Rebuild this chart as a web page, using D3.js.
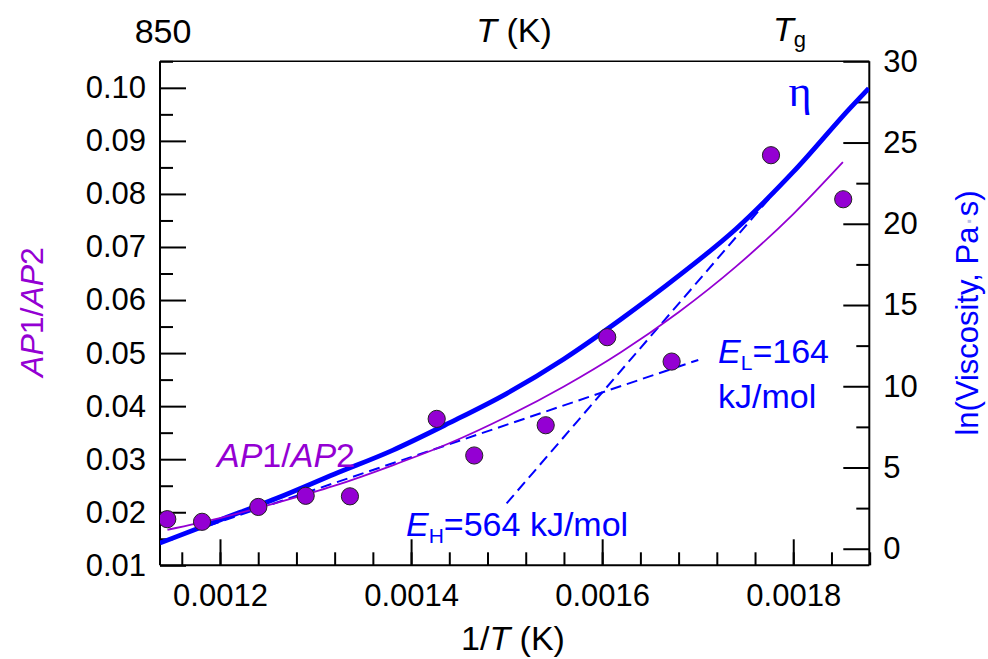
<!DOCTYPE html>
<html lang="en">
<head>
    <meta charset="UTF-8" />
    <title>AP1/AP2 and viscosity vs 1/T</title>
    <script src="https://d3js.org/d3.v7.min.js"></script>
    <style>
        body { margin: 0; background: #fff; }
        text { font-family: Arial, "Liberation Sans", Helvetica, sans-serif; }
    </style>
</head>
<body>
    <script>
        // measured points: 1/T and AP1/AP2 ratio
        const invT = [0.0011448, 0.0011812, 0.0012401, 0.0012897, 0.001336, 0.0014268,
                      0.0014661, 0.0015409, 0.0016053, 0.0016727, 0.0017767, 0.0018523];
        const ratio = [0.0187, 0.0182, 0.0210, 0.0231, 0.0230, 0.0376,
                       0.0307, 0.0364, 0.0530, 0.0484, 0.0873, 0.0790];

        // thin purple fit through the ratio
        const fitX = [0.001145, 0.0012, 0.00126, 0.00132, 0.00138, 0.00144, 0.0015,
                      0.00156, 0.00162, 0.00168, 0.00174, 0.0018, 0.001852];
        const fitRatio = [0.0167, 0.0189, 0.0218, 0.0250, 0.0288, 0.0330, 0.0380,
                          0.0437, 0.0502, 0.0577, 0.0663, 0.0762, 0.0860];

        // thick blue viscosity curve (right axis)
        const viscX = [0.001137, 0.0012, 0.00126, 0.00132, 0.00138, 0.00144, 0.0015,
                       0.00156, 0.00162, 0.00168, 0.00174, 0.0018, 0.00186, 0.001879];
        const lnVisc = [0.35, 1.77, 3.12, 4.60, 6.04, 7.74, 9.55,
                        11.68, 14.14, 16.79, 19.68, 23.19, 27.15, 28.34];

        // Arrhenius tangents (dashed)
        const lowX = [0.001137, 0.0017006], lowLn = [0.41, 11.62];
        const highX = [0.0015, 0.001781], highLn = [2.79, 21.97];

        const bottomTicks = [0.0012, 0.0014, 0.0016, 0.0018];
        const bottomMinor = d3.range(29, 48).map(d => d * 0.00004);
        const leftTicks = [0.01, 0.02, 0.03, 0.04, 0.05, 0.06, 0.07, 0.08, 0.09, 0.10];
        const leftMinor = [0.015, 0.025, 0.035, 0.045, 0.055, 0.065, 0.075, 0.085, 0.095, 0.105];
        const rightTicks = [0, 5, 10, 15, 20, 25, 30];
        const rightMinor = [2.5, 7.5, 12.5, 17.5, 22.5, 27.5];

        const W = 988, H = 659;
        const m = { left: 160, top: 61.3, right: 118.7, bottom: 93.7 };
        const w = W - m.left - m.right, h = H - m.top - m.bottom;

        const purple = '#9400d3', blue = '#0000ff';

        const svg = d3.select('body').append('svg').attr('width', W).attr('height', H);
        const g = svg.append('g').attr('transform', `translate(${m.left},${m.top})`);

        const x = d3.scaleLinear().domain([0.0011372, 0.0018796]).range([0, w]);
        const y = d3.scaleLinear().domain([0.01, 0.105]).range([h, 0]);
        const yR = d3.scaleLinear().domain([-1.02, 30]).range([h, 0]);

        g.append('defs').append('clipPath').attr('id', 'clip')
            .append('rect').attr('width', w).attr('height', h);

        // axes, ticks pointing inward
        function styleAxis(sel) {
            sel.select('.domain').remove();
            sel.selectAll('line').attr('stroke', '#000').attr('stroke-width', 2);
            sel.selectAll('text').attr('font-size', 31).attr('fill', '#000')
                .style('font-family', 'Arial, "Liberation Sans", sans-serif');
        }
        g.append('g').attr('transform', `translate(0,${h})`)
            .call(d3.axisBottom(x).tickValues(bottomMinor).tickSize(-13).tickFormat('')).call(styleAxis);
        g.append('g').attr('transform', `translate(0,${h})`)
            .call(d3.axisBottom(x).tickValues(bottomTicks).tickSize(-26).tickPadding(19)
                .tickFormat(d3.format('.4f'))).call(styleAxis);
        g.append('g')
            .call(d3.axisLeft(y).tickValues(leftMinor).tickSize(-13).tickFormat('')).call(styleAxis);
        g.append('g')
            .call(d3.axisLeft(y).tickValues(leftTicks).tickSize(-26).tickPadding(14)
                .tickFormat(d3.format('.2f'))).call(styleAxis);
        g.append('g').attr('transform', `translate(${w},0)`)
            .call(d3.axisRight(yR).tickValues(rightMinor).tickSize(-13).tickFormat('')).call(styleAxis);
        g.append('g').attr('transform', `translate(${w},0)`)
            .call(d3.axisRight(yR).tickValues(rightTicks).tickSize(-26).tickPadding(14)).call(styleAxis);

        // frame
        g.append('line').attr('x1', 0).attr('x2', w).attr('y1', 0).attr('y2', 0)
            .attr('stroke', '#000').attr('stroke-width', 1.4);
        g.append('line').attr('x1', 0).attr('x2', w).attr('y1', h).attr('y2', h)
            .attr('stroke', '#000').attr('stroke-width', 2);
        g.append('line').attr('x1', 0).attr('x2', 0).attr('y1', 0).attr('y2', h)
            .attr('stroke', '#000').attr('stroke-width', 2);
        g.append('line').attr('x1', w).attr('x2', w).attr('y1', 0).attr('y2', h)
            .attr('stroke', '#000').attr('stroke-width', 2);

        const plot = g.append('g').attr('clip-path', 'url(#clip)');

        const lineL = d3.line().x(d => x(d[0])).y(d => y(d[1])).curve(d3.curveMonotoneX);
        const lineR = d3.line().x(d => x(d[0])).y(d => yR(d[1])).curve(d3.curveMonotoneX);

        plot.append('path').datum(d3.zip(viscX, lnVisc)).attr('d', lineR)
            .attr('fill', 'none').attr('stroke', blue).attr('stroke-width', 4.8);
        plot.append('path').datum(d3.zip(lowX, lowLn)).attr('d', lineR)
            .attr('fill', 'none').attr('stroke', blue).attr('stroke-width', 2).attr('stroke-dasharray', '11,6');
        plot.append('path').datum(d3.zip(highX, highLn)).attr('d', lineR)
            .attr('fill', 'none').attr('stroke', blue).attr('stroke-width', 2).attr('stroke-dasharray', '11,6');
        plot.append('path').datum(d3.zip(fitX, fitRatio)).attr('d', lineL)
            .attr('fill', 'none').attr('stroke', purple).attr('stroke-width', 1.8);

        plot.selectAll('circle').data(d3.zip(invT, ratio)).enter().append('circle')
            .attr('cx', d => x(d[0])).attr('cy', d => y(d[1])).attr('r', 8.6)
            .attr('fill', purple).attr('stroke', '#222').attr('stroke-width', 1);

        // axis titles
        const bt = svg.append('text').attr('x', 513).attr('y', 650).attr('text-anchor', 'middle')
            .attr('font-size', 34);
        bt.append('tspan').text('1/');
        bt.append('tspan').attr('font-style', 'italic').text('T');
        bt.append('tspan').text(' (K)');

        const tt = svg.append('text').attr('x', 514).attr('y', 42).attr('text-anchor', 'middle')
            .attr('font-size', 34);
        tt.append('tspan').attr('font-style', 'italic').text('T');
        tt.append('tspan').text(' (K)');

        svg.append('text').attr('x', 163).attr('y', 43).attr('text-anchor', 'middle')
            .attr('font-size', 34).text('850');

        const tg = svg.append('text').attr('x', 773).attr('y', 41).attr('font-size', 34);
        tg.append('tspan').attr('font-style', 'italic').text('T');
        tg.append('tspan').attr('font-size', 22).attr('dy', 6).text('g');

        const lt = svg.append('text').attr('transform', 'translate(43,312) rotate(-90)')
            .attr('text-anchor', 'middle').attr('font-size', 32).attr('fill', purple);
        lt.append('tspan').attr('font-style', 'italic').text('AP');
        lt.append('tspan').text('1/');
        lt.append('tspan').attr('font-style', 'italic').text('AP');
        lt.append('tspan').text('2');

        const rt = svg.append('text').attr('transform', 'translate(978,313) rotate(-90)')
            .attr('text-anchor', 'middle').attr('font-size', 31).attr('fill', blue);
        rt.append('tspan').text('ln(Viscosity, Pa');
        rt.append('tspan').attr('fill', '#b8bfe8').text('·');
        rt.append('tspan').text('s)');

        // annotations
        const an = svg.append('text').attr('x', 286).attr('y', 467).attr('text-anchor', 'middle')
            .attr('font-size', 34).attr('fill', purple);
        an.append('tspan').attr('font-style', 'italic').text('AP');
        an.append('tspan').text('1/');
        an.append('tspan').attr('font-style', 'italic').text('AP');
        an.append('tspan').text('2');

        svg.append('text').attr('x', 800).attr('y', 106).attr('text-anchor', 'middle')
            .attr('font-size', 44).attr('fill', blue)
            .style('font-family', '"Liberation Serif", "DejaVu Serif", serif').text('η');

        const el = svg.append('text').attr('x', 718).attr('y', 363).attr('font-size', 34).attr('fill', blue);
        el.append('tspan').attr('font-style', 'italic').text('E');
        el.append('tspan').attr('font-size', 21).attr('dy', 7).text('L');
        el.append('tspan').attr('dy', -7).text('=164');
        svg.append('text').attr('x', 718).attr('y', 408).attr('font-size', 34).attr('fill', blue).text('kJ/mol');

        const eh = svg.append('text').attr('x', 406).attr('y', 536).attr('font-size', 34).attr('fill', blue);
        eh.append('tspan').attr('font-style', 'italic').text('E');
        eh.append('tspan').attr('font-size', 21).attr('dy', 7).text('H');
        eh.append('tspan').attr('dy', -7).text('=564 kJ/mol');
    </script>
</body>
</html>
